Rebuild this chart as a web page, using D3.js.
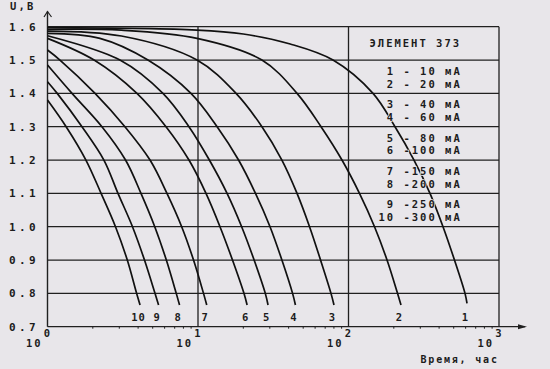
<!DOCTYPE html>
<html>
<head>
<meta charset="utf-8">
<script src="https://cdn.jsdelivr.net/npm/d3@7"></script>
<style>
body { margin: 0; background: #e8e6ea; }
text { font-family: "DejaVu Sans Mono", monospace; font-weight: bold; fill: #1c1c1c; white-space: pre; }
</style>
</head>
<body>
<div id="chart"></div>
<script>
// voltage grid and time decades
var yTicks = [0.7, 0.8, 0.9, 1.0, 1.1, 1.2, 1.3, 1.4, 1.5, 1.6];
var xDecades = [1, 10, 100, 1000];
var xExponents = ["0", "1", "2", "3"];

// discharge curves, [time h, U V]
var curve1 = [[1,1.597],[9.85,1.59],[20,1.578],[41,1.548],[78.9,1.5],[145.5,1.4],[203.7,1.3],[272.4,1.2],[347.9,1.1],[424.6,1.0],[506,0.9],[594.5,0.8],[613,0.77]];
var curve2 = [[1,1.592],[3.1,1.5895],[9.85,1.565],[26.6,1.5],[45.5,1.4],[65.7,1.3],[90.5,1.2],[118.3,1.1],[148.9,1.0],[180.3,0.9],[211.7,0.8],[223.3,0.765]];
var curve3 = [[1,1.587],[3.1,1.572],[9.85,1.5],[17.9,1.4],[26.6,1.3],[36.1,1.2],[45.5,1.1],[55.1,1.0],[65.2,0.9],[76.5,0.8],[80.1,0.765]];
var curve4 = [[1,1.58],[2.23,1.565],[4.65,1.5],[8.98,1.4],[13.4,1.3],[18.6,1.2],[24.1,1.1],[30.1,1.0],[36.1,0.9],[42.5,0.8],[44.4,0.765]];
var curve5 = [[1,1.573],[3.03,1.5],[5.85,1.4],[8.71,1.3],[11.9,1.2],[15.6,1.1],[19.5,1.0],[23.6,0.9],[28.0,0.8],[29.2,0.765]];
var curve6 = [[1,1.565],[2.04,1.5],[3.93,1.4],[6.13,1.3],[8.71,1.2],[11.3,1.1],[14.0,1.0],[16.95,0.9],[20.2,0.8],[21.2,0.765]];
var curve7 = [[1,1.53],[1.21,1.5],[2.07,1.4],[3.27,1.3],[4.80,1.2],[6.22,1.1],[7.79,1.0],[9.34,0.9],[10.88,0.8],[11.43,0.765]];
var curve8 = [[1,1.485],[1.455,1.4],[2.30,1.3],[3.30,1.2],[4.18,1.1],[5.16,1.0],[6.16,0.9],[7.17,0.8],[7.54,0.765]];
var curve9 = [[1,1.435],[1.16,1.4],[1.695,1.3],[2.37,1.2],[2.94,1.1],[3.67,1.0],[4.41,0.9],[5.18,0.8],[5.47,0.765]];
var curve10 = [[1,1.38],[1.33,1.3],[1.80,1.2],[2.27,1.1],[2.83,1.0],[3.39,0.9],[3.91,0.8],[4.12,0.765]];
var curves = [curve1, curve2, curve3, curve4, curve5, curve6, curve7, curve8, curve9, curve10];
var curveNames = ["1", "2", "3", "4", "5", "6", "7", "8", "9", "10"];

// legend
var legendTitle = "ЭЛЕМЕНТ 373";
var legendRows = [
    [" 1 - 10 мА", " 2 - 20 мА"],
    [" 3 - 40 мА", " 4 - 60 мА"],
    [" 5 - 80 мА", " 6 -100 мА"],
    [" 7 -150 мА", " 8 -200 мА"],
    [" 9 -250 мА", "10 -300 мА"]
];
var legendRowTop = [1.5, 1.4, 1.3, 1.2, 1.1];

var width = 550, height = 369;
var x = d3.scaleLog().domain([1, 1000]).range([47.5, 499]);
var y = d3.scaleLinear().domain([0.7, 1.6]).range([326.7, 26.7]);

var svg = d3.select("#chart").append("svg")
    .attr("width", width)
    .attr("height", height);

var ink = "#202020";

// horizontal grid
svg.selectAll(".hgrid")
    .data(yTicks)
    .enter().append("line")
    .attr("x1", x(1))
    .attr("x2", function(d) { return d == 0.7 ? 525 : x(1000); })
    .attr("y1", function(d) { return y(d); })
    .attr("y2", function(d) { return y(d); })
    .style("stroke", ink)
    .style("stroke-width", 1.3);

// vertical grid
svg.selectAll(".vgrid")
    .data(xDecades.slice(1))
    .enter().append("line")
    .attr("x1", function(d) { return x(d); })
    .attr("x2", function(d) { return x(d); })
    .attr("y1", y(0.7))
    .attr("y2", y(1.6))
    .style("stroke", ink)
    .style("stroke-width", 1.3);

// y axis with arrow
svg.append("line")
    .attr("x1", x(1)).attr("x2", x(1))
    .attr("y1", y(0.7)).attr("y2", 11.5)
    .style("stroke", ink).style("stroke-width", 1.4);
svg.append("path")
    .attr("d", "M" + (x(1) - 3.5) + ",17 L" + x(1) + ",11.5 L" + (x(1) + 4) + ",17")
    .style("fill", "none").style("stroke", ink).style("stroke-width", 1.2);

// x axis arrow
svg.append("path")
    .attr("d", "M518," + (y(0.7) - 2.5) + " L527," + y(0.7) + " L518," + (y(0.7) + 2.5) + "Z")
    .style("fill", ink);

// minor ticks
var minor = [];
xDecades.slice(0, 3).forEach(function(d) {
    for (var k = 2; k < 10; k++) minor.push(d * k);
});
svg.selectAll(".minor")
    .data(minor)
    .enter().append("line")
    .attr("x1", function(d) { return x(d); })
    .attr("x2", function(d) { return x(d); })
    .attr("y1", y(0.7))
    .attr("y2", y(0.7) + 2)
    .style("stroke", ink)
    .style("stroke-width", 1);

// curves
var line = d3.line()
    .x(function(d) { return x(d[0]); })
    .y(function(d) { return y(d[1]); })
    .curve(d3.curveCatmullRom.alpha(0.5));

svg.selectAll(".curve")
    .data(curves)
    .enter().append("path")
    .attr("d", line)
    .style("fill", "none")
    .style("stroke", "#111")
    .style("stroke-width", 1.7);

// y tick labels
svg.selectAll(".ylab")
    .data(yTicks)
    .enter().append("text")
    .attr("x", x(1) - 38.5)
    .attr("y", function(d) { return y(d) + 4; })
    .style("font-size", "11px")
    .style("letter-spacing", "3.4px")
    .text(function(d) { return d.toFixed(1); });

// x tick labels: 10 with exponent
svg.selectAll(".xlab")
    .data(xDecades)
    .enter().append("text")
    .attr("x", function(d) { return x(d) - 21.5; })
    .attr("y", 346.7)
    .style("font-size", "10.5px")
    .style("letter-spacing", "2px")
    .text("10");
svg.selectAll(".xexp")
    .data(xDecades)
    .enter().append("text")
    .attr("x", function(d) { return x(d) - 0.5; })
    .attr("y", 337.3)
    .attr("text-anchor", "middle")
    .style("font-size", "10.5px")
    .text(function(d, i) { return xExponents[i]; });

// curve numbers at the bottom
svg.selectAll(".cname")
    .data(curves)
    .enter().append("text")
    .attr("x", function(d) { return x(d[d.length - 1][0]) - 1.5; })
    .attr("y", y(0.7) - 5.5)
    .attr("text-anchor", "middle")
    .style("font-size", "10.5px")
    .style("letter-spacing", "1px")
    .text(function(d, i) { return curveNames[i]; });

// legend
svg.append("text")
    .attr("x", x(100) + 21)
    .attr("y", (y(1.6) + y(1.5)) / 2 + 4)
    .style("font-size", "10.5px")
    .style("letter-spacing", "2px")
    .text(legendTitle);

legendRows.forEach(function(row, i) {
    row.forEach(function(s, j) {
        svg.append("text")
            .attr("x", x(100) + 30)
            .attr("y", y(legendRowTop[i]) + 15 + j * 12.5)
            .style("font-size", "10.5px")
            .style("letter-spacing", "2px")
            .style("paint-order", "stroke")
            .style("stroke", "#e8e6ea")
            .style("stroke-width", 1.5)
            .text(s);
    });
});

// axis titles
svg.append("text")
    .attr("x", 10).attr("y", 9.5)
    .style("font-size", "10.5px")
    .style("letter-spacing", "2.2px")
    .text("U,B");
svg.append("text")
    .attr("x", 420.5).attr("y", 363)
    .style("font-size", "10px")
    .style("letter-spacing", "1.8px")
    .text("Время, час");
</script>
</body>
</html>
